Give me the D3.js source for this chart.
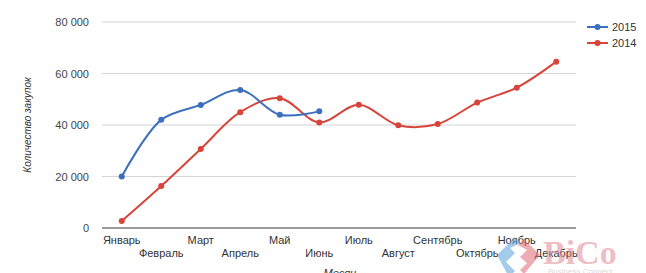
<!DOCTYPE html>
<html>
<head>
<meta charset="utf-8">
<script src="https://d3js.org/d3.v7.min.js"></script>
<style>
  body { margin: 0; background: #fff; }
  svg { font-family: "Liberation Sans", Arial, sans-serif; }
</style>
</head>
<body>
<div id="chart"></div>
<script>
// месяцы
const months = ["Январь", "Февраль", "Март", "Апрель", "Май", "Июнь",
  "Июль", "Август", "Сентябрь", "Октябрь", "Ноябрь", "Декабрь"];
// количество закупок
const values2015 = [20000, 42000, 47800, 53600, 44000, 45300];
const values2014 = [2700, 16300, 30700, 45000, 50400, 41000,
  47900, 39900, 40400, 48700, 54500, 64600];
const yTicks = [0, 20000, 40000, 60000, 80000];

const series = [
  { name: "2015", color: "#3d6fbf", values: values2015 },
  { name: "2014", color: "#d9443a", values: values2014 }
];

const width = 646, height = 273;
const margin = { left: 102, right: 70, top: 22, bottom: 45 };

const svg = d3.select("#chart").append("svg")
  .attr("width", width).attr("height", height);

const x = d3.scaleBand().domain(months)
  .range([margin.left, width - margin.right]);
const y = d3.scaleLinear().domain([0, 80000])
  .range([height - margin.bottom, margin.top]);

const fmt = v => d3.format(",")(v).replace(/,/g, " ");

// сетка
svg.append("g").selectAll("line").data(yTicks).join("line")
  .attr("x1", margin.left).attr("x2", width - margin.right)
  .attr("y1", d => y(d)).attr("y2", d => y(d))
  .attr("stroke", d => d === 0 ? "#9a9a9a" : "#d4d4d4")
  .attr("stroke-width", d => d === 0 ? 2 : 1.2);

// ось Y
const yAxis = svg.append("g")
  .attr("transform", `translate(${margin.left - 10},0)`)
  .call(d3.axisLeft(y).tickValues(yTicks).tickFormat(fmt).tickSize(0));
yAxis.select(".domain").remove();
yAxis.selectAll("text").attr("font-size", 11).attr("fill", "#444")
  .attr("font-family", "Liberation Sans, Arial, sans-serif");

// ось X, подписи в два ряда
const xAxis = svg.append("g")
  .attr("transform", `translate(0,${height - margin.bottom})`)
  .call(d3.axisBottom(x).tickSize(0));
xAxis.select(".domain").remove();
xAxis.selectAll("text")
  .attr("font-size", 11).attr("fill", "#333")
  .attr("font-family", "Liberation Sans, Arial, sans-serif")
  .attr("dy", (d, i) => i % 2 === 0 ? "1.2em" : "2.4em");

// подписи осей
svg.append("text")
  .attr("transform", `translate(31,${y(40000)}) rotate(-90)`)
  .attr("text-anchor", "middle")
  .attr("font-size", 10).attr("font-style", "italic").attr("fill", "#333")
  .text("Количество закупок");
svg.append("text")
  .attr("x", 340).attr("y", 277)
  .attr("text-anchor", "middle")
  .attr("font-size", 11).attr("font-style", "italic").attr("fill", "#333")
  .text("Месяц");

// логотип (водяной знак)
const logo = svg.append("g").attr("opacity", 0.55);
logo.append("path")
  .attr("d", "M497,255 L515,237 L521,243 L510,248 L515,253 L506,262 L515,271 L509,277 Z")
  .attr("fill", "#5aa0d8");
logo.append("path")
  .attr("d", "M540,255 L524,239 L518,245 L527,250 L520,257 L527,263 L520,270 L524,274 Z")
  .attr("fill", "#e06a78");
logo.append("text")
  .attr("x", 543).attr("y", 264)
  .attr("font-family", "Liberation Serif, serif").attr("font-weight", "bold")
  .attr("font-size", 34).attr("fill", "#e08a96")
  .text("BiCo");
logo.append("text")
  .attr("x", 548).attr("y", 274)
  .attr("font-size", 8).attr("fill", "#bbb")
  .text("Business Connect");

// линии
const line = d3.line()
  .x((d, i) => x(months[i]) + x.bandwidth() / 2)
  .y(d => y(d))
  .curve(d3.curveCatmullRom.alpha(0.5));

series.slice().reverse().forEach(s => {
  const g = svg.append("g");
  g.append("path").datum(s.values)
    .attr("d", line).attr("fill", "none")
    .attr("stroke", s.color).attr("stroke-width", 2);
  g.selectAll("circle").data(s.values).join("circle")
    .attr("cx", (d, i) => x(months[i]) + x.bandwidth() / 2)
    .attr("cy", d => y(d))
    .attr("r", 3).attr("fill", s.color);
});

// легенда
const legend = svg.append("g").selectAll("g").data(series).join("g")
  .attr("transform", (d, i) => `translate(587,${27 + i * 16})`);
legend.append("line").attr("x1", 0).attr("x2", 21)
  .attr("stroke", d => d.color).attr("stroke-width", 2);
legend.append("circle").attr("cx", 10.5).attr("r", 3).attr("fill", d => d.color);
legend.append("text").attr("x", 25).attr("dy", "0.35em")
  .attr("font-size", 11).attr("fill", "#333").text(d => d.name);
</script>
</body>
</html>
